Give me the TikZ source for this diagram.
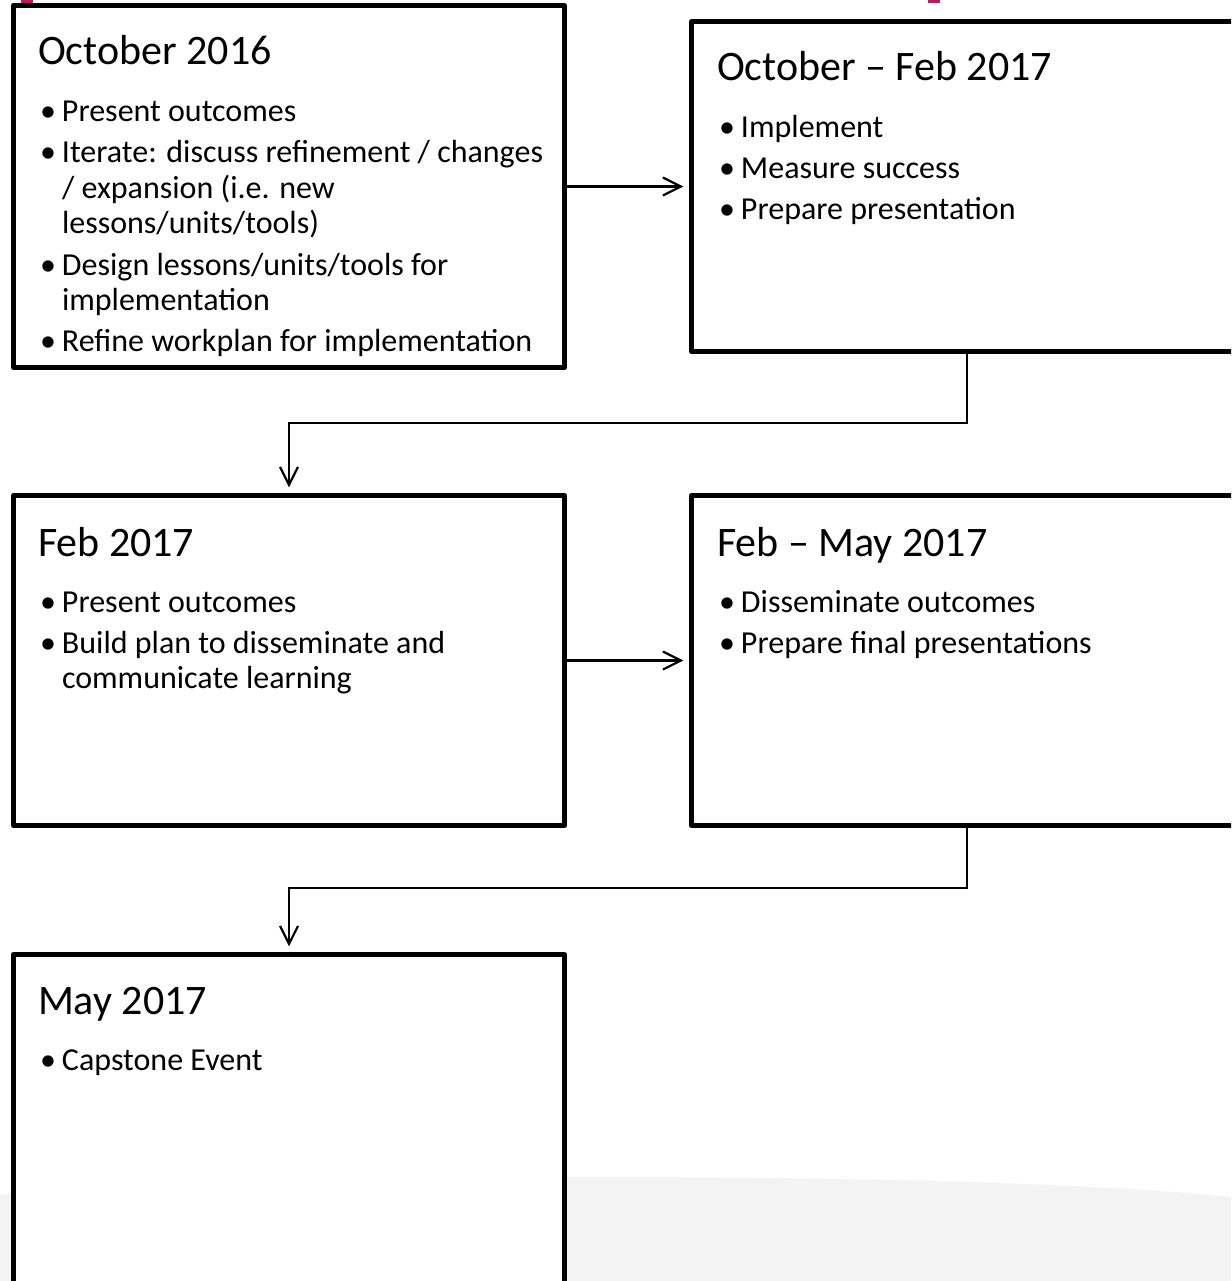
\documentclass[tikz,border=0pt]{standalone}
\usepackage{fontspec}
\setmainfont{Carlito}
\usetikzlibrary{arrows.meta}
\definecolor{mag}{HTML}{C2185B}
\definecolor{bggray}{HTML}{F3F3F3}
\tikzset{
  box/.style={draw=black, line width=4.8pt, fill=white, line join=round, inner sep=0pt, outer sep=0pt, anchor=north west, minimum width=551.2pt},
  ttl/.style={anchor=base west, inner sep=0pt, outer sep=0pt, font=\fontsize{42}{50}\selectfont},
  txt/.style={anchor=base west, inner sep=0pt, outer sep=0pt, font=\fontsize{32}{38}\selectfont},
  conn/.style={draw=black, line width=2.2pt, -{Straight Barb[length=18pt,width=18pt]}, shorten >=8pt},
}
\newcommand\blt{\makebox[22pt][l]{•}}
\begin{document}
\begin{tikzpicture}[x=1pt,y=-1pt]
\useasboundingbox (0,0) rectangle (1231,1281);
\clip (0,0) rectangle (1231,1281);
\fill[white] (0,0) rectangle (1231,1281);
% background swoosh
\fill[bggray] (0,1195) .. controls (250,1176) and (450,1177) .. (640,1177) .. controls (900,1178) and (1100,1184) .. (1231,1197) -- (1231,1281) -- (0,1281) -- cycle;
% magenta slivers at top
\fill[mag] (21,0) rectangle (33,3.5);
\fill[mag] (928,0) rectangle (940,3.5);
% boxes
\node[box, minimum height=362.2pt] (b1) at (13.4,5.4) {};
\node[box, minimum height=330.2pt] (b2) at (691.4,21.4) {};
\node[box, minimum height=330.2pt] (b3) at (13.4,495.4) {};
\node[box, minimum height=330.2pt] (b4) at (691.4,495.4) {};
\node[box, minimum height=400pt] (b5) at (13.4,954.4) {};
% box 1 text
\node[ttl] (t1) at (38,65) {October 2016};
\node[txt] (t1a) at (40,122) {\blt Present outcomes};
\node[txt] (t1b) at (40,163) {\blt Iterate: discuss refinement / changes};
\node[txt] (t1c) at (62,198.5) {/ expansion (i.e. new};
\node[txt] (t1d) at (62,234) {lessons/units/tools)};
\node[txt] (t1e) at (40,275) {\blt Design lessons/units/tools for};
\node[txt] (t1f) at (62,310.5) {implementation};
\node[txt] (t1g) at (40,351.5) {\blt Refine workplan for implementation};
% box 2 text
\node[ttl] (t2) at (717,81) {October – Feb 2017};
\node[txt] (t2a) at (719,138) {\blt Implement};
\node[txt] (t2b) at (719,179) {\blt Measure success};
\node[txt] (t2c) at (719,220) {\blt Prepare presentation};
% box 3 text
\node[ttl] (t3) at (38,556) {Feb 2017};
\node[txt] (t3a) at (40,612) {\blt Present outcomes};
\node[txt] (t3b) at (40,653) {\blt Build plan to disseminate and};
\node[txt] (t3c) at (62,688.5) {communicate learning};
% box 4 text
\node[ttl] (t4) at (717,556) {Feb – May 2017};
\node[txt] (t4a) at (719,612) {\blt Disseminate outcomes};
\node[txt] (t4b) at (719,653) {\blt Prepare final presentations};
% box 5 text
\node[ttl] (t5) at (38,1014) {May 2017};
\node[txt] (t5a) at (40,1070) {\blt Capstone Event};
% connectors
\coordinate (k1) at (0,423);
\coordinate (k2) at (0,888);
\draw[conn] (b1.east) -- (b2.west);
\draw[conn] (b2.south) -- (b2.south |- k1) -| (b3.north);
\draw[conn] (b3.east) -- (b4.west);
\draw[conn] (b4.south) -- (b4.south |- k2) -| (b5.north);
\end{tikzpicture}
\end{document}
